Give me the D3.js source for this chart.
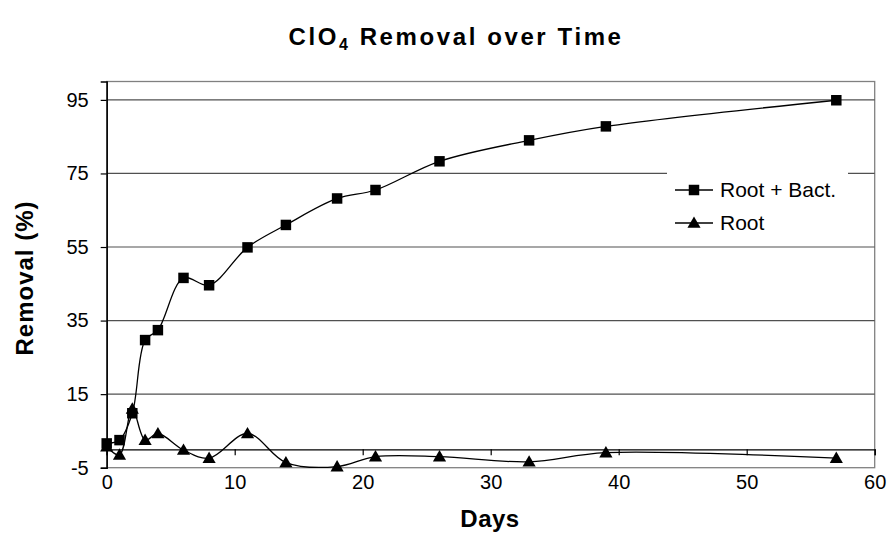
<!DOCTYPE html>
<html>
<head>
<meta charset="utf-8">
<script src="https://cdn.jsdelivr.net/npm/d3@7"></script>
<style>
  html, body { margin: 0; padding: 0; background: #fff; }
  svg { display: block; font-family: "Liberation Sans", Arial, sans-serif; }
</style>
</head>
<body>
<svg id="chart" width="891" height="538"></svg>
<script>
// ---- data ----
const days = [0, 1, 2, 3, 4, 6, 8, 11, 14, 18, 21, 26, 33, 39, 57];
const rootBact = [1.6, 2.5, 9.8, 29.7, 32.4, 46.6, 44.6, 54.9, 61.0, 68.2, 70.5, 78.3, 84.0, 87.8, 94.9];
const root = [0.7, -1.5, 11.0, 2.5, 4.3, -0.2, -2.4, 4.3, -3.6, -4.7, -2.0, -2.0, -3.4, -0.9, -2.4];
const seriesNames = ["Root + Bact.", "Root"];
const yTicks = [-5, 15, 35, 55, 75, 95];
const xTicks = [0, 10, 20, 30, 40, 50, 60];
const titleMain = "ClO";
const titleSub = "4";
const titleRest = " Removal over Time";
const xTitle = "Days";
const yTitle = "Removal (%)";

// ---- layout ----
const svg = d3.select("#chart");
const L = 106.7, R = 874.7, T = 81.5, B = 467.7;
const x = d3.scaleLinear().domain([0, 60]).range([L, R]);
const y = d3.scaleLinear().domain([-5, 100]).range([B, T]);
const fmt = d => String(d);

// plot border (gray)
svg.append("rect").attr("x", L).attr("y", T).attr("width", R - L).attr("height", B - T)
  .attr("fill", "none").attr("stroke", "#808080").attr("stroke-width", 1.3);

// gridlines
svg.append("g").selectAll("line").data(yTicks.filter(v => v > -5)).join("line")
  .attr("x1", L).attr("x2", R).attr("y1", d => y(d)).attr("y2", d => y(d))
  .attr("stroke", "#505050").attr("stroke-width", 1.2);

// y axis
const yAxis = d3.axisLeft(y).tickValues(yTicks).tickSize(6).tickPadding(12).tickFormat(fmt);
const gy = svg.append("g").attr("transform", `translate(${L},0)`).call(yAxis);
gy.select(".domain").attr("stroke", "#000").attr("stroke-width", 1.5);
gy.selectAll(".tick line").attr("stroke", "#000").attr("stroke-width", 1.2);
gy.selectAll(".tick text").attr("font-size", 20).attr("font-family", "Liberation Sans, Arial, sans-serif").attr("fill", "#000");

// x axis line at y=0 with ticks (no labels)
const xAxisLine = d3.axisBottom(x).tickValues(xTicks).tickSize(6).tickFormat("");
const gx = svg.append("g").attr("transform", `translate(0,${y(0)})`).call(xAxisLine);
gx.select(".domain").attr("stroke", "#000").attr("stroke-width", 1.3);
gx.selectAll(".tick line").attr("stroke", "#000").attr("stroke-width", 1.2);

// x tick labels at the bottom
const xLabels = d3.axisBottom(x).tickValues(xTicks).tickSize(0).tickPadding(7).tickFormat(fmt);
const gxl = svg.append("g").attr("transform", `translate(0,${B})`).call(xLabels);
gxl.select(".domain").remove();
gxl.selectAll(".tick text").attr("font-size", 20).attr("font-family", "Liberation Sans, Arial, sans-serif").attr("fill", "#000");

// lines
const line = d3.line().x(d => x(d[0])).y(d => y(d[1])).curve(d3.curveCatmullRom.alpha(0.5));
const dataA = days.map((d, i) => [d, rootBact[i]]);
const dataB = days.map((d, i) => [d, root[i]]);
svg.append("path").datum(dataA).attr("d", line).attr("fill", "none").attr("stroke", "#000").attr("stroke-width", 1.3);
svg.append("path").datum(dataB).attr("d", line).attr("fill", "none").attr("stroke", "#000").attr("stroke-width", 1.3);

const sq = d3.symbol().type(d3.symbolSquare).size(110);
const tri = d3.symbol().type(d3.symbolTriangle).size(75);
svg.append("g").selectAll("path").data(dataA).join("path")
  .attr("d", sq).attr("transform", d => `translate(${x(d[0])},${y(d[1])})`).attr("fill", "#000");
svg.append("g").selectAll("path").data(dataB).join("path")
  .attr("d", tri).attr("transform", d => `translate(${x(d[0])},${y(d[1]) + 1})`).attr("fill", "#000");

// legend
const lg = svg.append("g");
lg.append("rect").attr("x", 667).attr("y", 169).attr("width", 181).attr("height", 72).attr("fill", "#fff");
const entries = [{name: seriesNames[0], sym: sq, yy: 190}, {name: seriesNames[1], sym: tri, yy: 223}];
entries.forEach(e => {
  lg.append("line").attr("x1", 675).attr("x2", 713).attr("y1", e.yy).attr("y2", e.yy).attr("stroke", "#000").attr("stroke-width", 1.3);
  lg.append("path").attr("d", e.sym).attr("transform", `translate(694,${e.yy + (e.sym === tri ? 1 : 0)})`).attr("fill", "#000");
  lg.append("text").attr("x", 720).attr("y", e.yy).attr("dy", "0.35em").attr("font-size", 21).attr("fill", "#000").text(e.name);
});

// title
const t = svg.append("text").attr("x", 456).attr("y", 45).attr("text-anchor", "middle")
  .attr("font-size", 24).attr("font-weight", "bold").attr("letter-spacing", 2.6).attr("fill", "#000");
t.append("tspan").text(titleMain);
t.append("tspan").attr("font-size", 16).attr("dy", 5).text(titleSub);
t.append("tspan").attr("dy", -5).text(titleRest);

// axis titles
svg.append("text").attr("x", 490).attr("y", 527).attr("text-anchor", "middle")
  .attr("font-size", 24).attr("font-weight", "bold").attr("letter-spacing", 0.5).attr("fill", "#000").text(xTitle);
svg.append("text").attr("transform", "translate(33,278) rotate(-90)").attr("text-anchor", "middle")
  .attr("font-size", 24).attr("font-weight", "bold").attr("letter-spacing", 1).attr("fill", "#000").text(yTitle);
</script>
</body>
</html>
